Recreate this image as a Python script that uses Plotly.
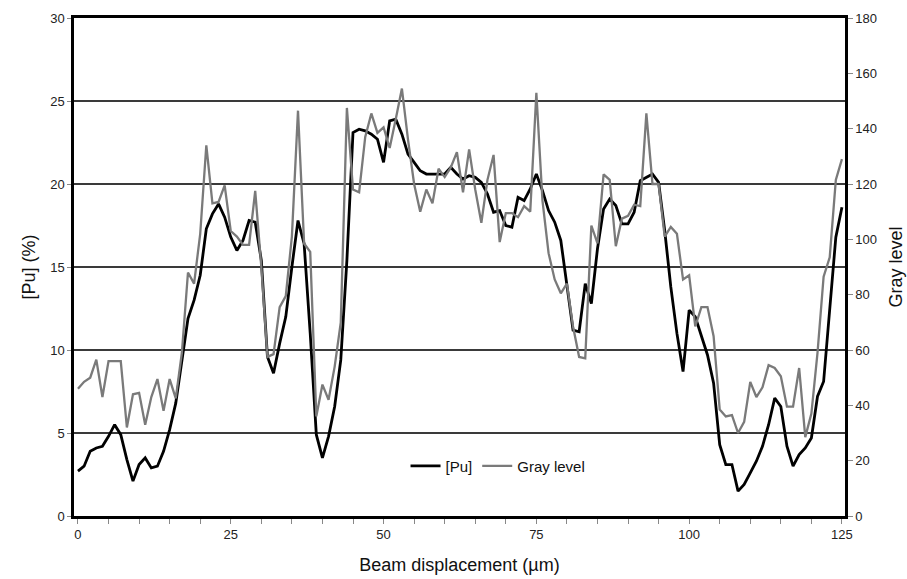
import plotly.graph_objects as go

displacement = list(range(0, 126))

pu = [2.7, 3.0, 3.9, 4.1, 4.2, 4.8, 5.5, 4.9, 3.4, 2.1,
      3.1, 3.5, 2.9, 3.0, 3.9, 5.2, 6.8, 9.4, 11.9, 13.0,
      14.5, 17.3, 18.2, 18.8, 18.0, 16.8, 16.0, 16.6, 17.8, 17.7,
      15.4, 9.6, 8.6, 10.4, 12.0, 15.0, 17.8, 16.4, 11.0, 4.9,
      3.5, 4.8, 6.6, 9.4, 15.4, 23.1, 23.3, 23.2, 23.0, 22.7,
      21.3, 23.8, 23.9, 23.0, 21.8, 21.3, 20.8, 20.6, 20.6, 20.6,
      20.6, 21.0, 20.6, 20.3, 20.5, 20.4, 20.1, 19.4, 18.3, 18.4,
      17.5, 17.4, 19.2, 19.0, 19.7, 20.6, 19.6, 18.4, 17.7, 16.6,
      14.0, 11.2, 11.1, 14.0, 12.8, 16.1, 18.5, 19.1, 18.7, 17.6,
      17.6, 18.3, 20.2, 20.4, 20.6, 20.1, 17.2, 13.8, 11.0, 8.7,
      12.4, 12.0, 10.8, 9.7, 8.0, 4.3, 3.1, 3.1, 1.5, 1.9,
      2.6, 3.3, 4.2, 5.5, 7.1, 6.6, 4.2, 3.0, 3.7, 4.1,
      4.7, 7.2, 8.1, 12.2, 16.8, 18.6]

gray = [46, 48.5, 50, 56.5, 43, 56, 56, 56, 32, 44,
        44.5, 33, 43, 49.5, 38, 49.5, 42.5, 59, 88, 84,
        102, 134, 113, 113.5, 119.5, 103, 101, 98, 98, 117.5,
        90, 57.5, 58.5, 75.5, 79.5, 101, 146.5, 98.5, 95.5, 36,
        47.5, 42, 54, 70, 147.5, 118, 117, 137, 145.5, 138.5,
        140.5, 133, 143.5, 154.5, 136, 120, 110, 118, 113, 125.5,
        122.5, 126, 131.5, 117, 132.5, 118, 106, 121.5, 130.5, 99,
        109.5, 109.5, 108, 112, 110, 153, 114, 95, 85.5, 80.5,
        84, 68.5, 57.5, 57, 105, 98.5, 123.5, 121.5, 97.5, 107.5,
        108.5, 112.5, 112, 145.5, 120, 120, 101, 104.5, 102, 85.5,
        87, 68.5, 75.5, 75.5, 65, 38.5, 36, 36.5, 30, 34,
        48.5, 43, 46.5, 54.5, 53.5, 50.5, 39.5, 39.5, 53.5, 28.5,
        37, 59, 86.5, 93.5, 121.5, 129]

x_ticks = [0, 25, 50, 75, 100, 125]
y_ticks = [0, 5, 10, 15, 20, 25, 30]
y2_ticks = [0, 20, 40, 60, 80, 100, 120, 140, 160, 180]

FONT = "Liberation Sans, Arial, sans-serif"

fig = go.Figure()
fig.add_trace(go.Scatter(x=displacement, y=gray, mode="lines", name="Gray level",
                         line=dict(color="#7a7a7a", width=2.3), yaxis="y2"))
fig.add_trace(go.Scatter(x=displacement, y=pu, mode="lines", name="[Pu]",
                         line=dict(color="#000000", width=2.8)))

fig.update_layout(
    width=907, height=579,
    margin=dict(l=74, r=62, t=18, b=63),
    paper_bgcolor="white", plot_bgcolor="white",
    font=dict(family=FONT, color="#222", size=13),
    showlegend=True,
    legend=dict(orientation="h", x=0.43, y=0.1, xanchor="left", yanchor="middle",
                bgcolor="rgba(0,0,0,0)", font=dict(size=15, color="#111"),
                traceorder="reversed", itemwidth=30),
    xaxis=dict(range=[-0.65, 125.5], tickvals=x_ticks, ticks="outside", ticklen=5,
               tickcolor="#888", showgrid=False, zeroline=False, automargin=False,
               showline=True, linecolor="black", linewidth=2.5, mirror=True,
               minor=dict(dtick=5, tick0=0, ticks="outside", ticklen=5, tickcolor="#888", showgrid=False),
               title=dict(text="Beam displacement (µm)", font=dict(size=18, color="#111"), standoff=18),
               tickfont=dict(size=13, color="#222")),
    yaxis=dict(range=[0, 30], tickvals=y_ticks, ticks="outside", ticklen=4, tickcolor="#888",
               showgrid=True, gridcolor="#3a3a3a", gridwidth=1.5, zeroline=False, automargin=False,
               showline=True, linecolor="black", linewidth=2.5, mirror=True,
               title=dict(text="[Pu] (%)", font=dict(size=18, color="#111"), standoff=10),
               tickfont=dict(size=13, color="#222")),
    yaxis2=dict(range=[0, 180], tickvals=y2_ticks, overlaying="y", side="right",
                ticks="outside", ticklen=5, tickcolor="#888", showgrid=False, zeroline=False,
                automargin=False,
                showline=True, linecolor="black", linewidth=2.5,
                title=dict(text="Gray level", font=dict(size=18, color="#111"), standoff=14),
                tickfont=dict(size=13, color="#222")),
)

fig.write_html("out.html")
